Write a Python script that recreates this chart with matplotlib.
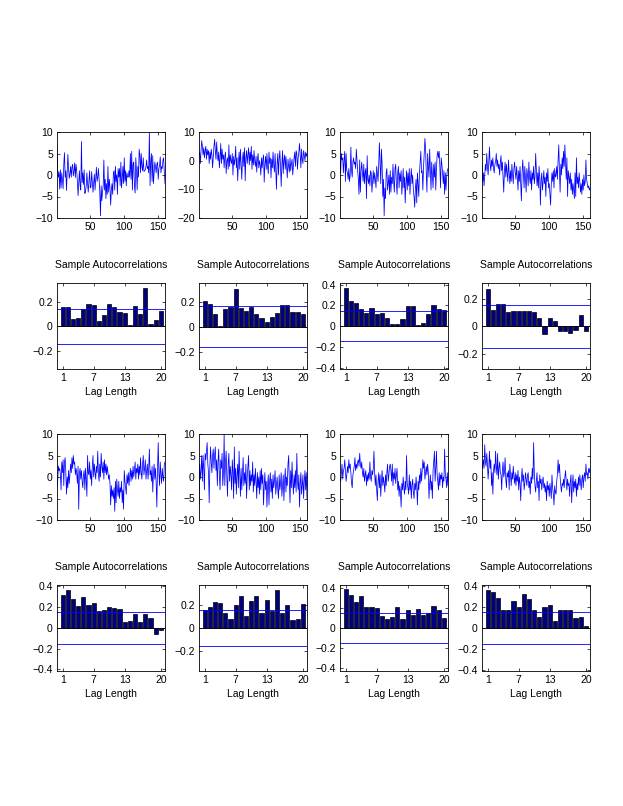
import matplotlib
matplotlib.use('Agg')
import matplotlib.pyplot as plt
import numpy as np

plt.rcParams['font.family'] = ['Liberation Sans', 'DejaVu Sans']
plt.rcParams['font.size'] = 7.5

# simulated series, 160 points each
s1 = [6.5, 1.0, -0.5, 0.8, -3.3, 1.2, -3.0, 0.5, -1.0, -3.2, 2.5, 5.2, -0.5, 1.0, -3.6, 0.5, 4.8, 1.5, -0.8, 0.2,
      2.0, -0.5, 1.8, 2.5, -0.2, 0.8, 2.8, -0.6, 2.5, 1.0, -1.5, -4.8, -2.0, 1.0, -2.5, -3.5, 7.8, -1.8, 0.5, -2.2,
      1.2, -4.3, -3.8, -2.5, 0.5, -2.0, -4.0, -1.5, 1.0, -3.0, -2.8, 0.8, -1.5, -4.0, -2.0, 0.2, -3.5, -1.0, 1.8, -1.5,
      -0.5, 1.5, -1.0, -4.0, -9.5, -2.5, -6.0, -3.8, -2.5, 3.5, -3.5, -1.0, -5.5, -2.0, -4.5, 2.0, -4.0, -1.0, -3.0, -7.0,
      -3.5, -2.0, -4.5, 0.5, 1.0, -3.5, 2.0, -1.5, 0.0, -4.5, 1.5, -0.5, 1.5, -2.5, 3.0, -3.0, -1.0, 2.0, -2.0, 4.0,
      -1.5, 1.0, -2.5, 0.5, -0.5, -0.5, 1.0, -0.5, 5.0, -1.0, 5.5, -3.5, 2.5, 3.0, -2.5, -4.2, 4.0, 1.0, -3.5, 2.0,
      -0.5, 6.0, 4.5, 0.5, 5.0, 2.0, 1.0, 4.0, 0.8, 1.0, 1.2, 2.0, 3.5, 1.5, 2.0, 0.5, 10.0, -2.5, 3.0, 5.0,
      -1.5, 4.5, -2.0, 0.5, 3.0, 2.0, 0.5, 2.5, 3.0, -1.0, 1.5, 2.2, 4.2, 0.5, 2.0, 1.5, 3.5, 4.0, 0.5, -2.0]
s2 = [2.0, 3.0, -1.0, 3.5, 7.0, 5.0, 2.0, 4.5, 1.0, 3.5, 5.0, 0.5, 4.0, 2.0, 3.5, -1.0, 3.0, 0.5, 4.0, 2.0,
      -2.5, 1.5, 5.0, 7.5, 3.5, 0.5, 6.5, 2.0, 0.0, 3.0, -2.5, 1.0, 6.0, -1.0, 4.0, 0.5, 2.0, -2.5, 1.5, 3.0,
      -4.5, 0.0, 1.0, -3.0, 5.5, -2.0, 2.0, 0.0, -1.0, 2.5, -5.0, 1.5, -1.5, 0.5, 5.0, -2.5, 1.0, -7.0, -1.0, 3.0,
      -3.0, 4.0, -1.0, -6.5, 0.5, 3.0, -2.0, 4.5, -7.0, 1.0, 3.5, -1.0, 2.0, 4.5, -1.5, 3.0, 0.0, 5.0, -3.0, 2.0,
      -1.5, 3.5, 0.0, -2.0, 1.5, -4.0, 0.5, 2.5, -2.5, 0.0, -1.5, -5.0, 1.0, -2.5, 0.5, 2.0, -7.5, -1.0, 1.5, -3.0,
      2.5, -2.0, -4.5, 3.0, -1.0, 1.0, -6.0, 0.5, -2.5, 3.0, -1.5, -4.0, 2.5, -3.0, -10.0, -1.0, 2.5, -5.0, 0.5, 3.5,
      -2.0, -9.0, -1.5, 3.5, -4.5, 0.0, 2.0, -3.0, 1.5, -2.5, -6.0, 0.5, -2.0, -4.0, 1.0, -3.5, -1.0, 0.5, -5.0, -2.0,
      1.0, 3.0, -2.0, 3.5, 2.5, -3.0, 1.0, 3.0, 6.0, 2.0, -2.5, 4.0, 0.5, -1.0, 3.5, 2.0, 0.0, 3.0, 1.5, 2.5]
s3 = [4.5, 0.5, 5.0, 3.5, 4.0, 0.5, 3.5, 5.5, -1.5, 5.0, 1.0, 0.5, -1.0, 1.5, -1.5, 0.0, 6.5, 1.0, -0.5, 3.0,
      4.0, 2.5, 3.0, 1.5, 6.0, 3.5, 1.0, -1.0, -4.5, 3.5, -4.0, 1.0, 3.0, 0.5, -1.5, 2.5, -2.0, 0.5, 1.5, -5.5,
      4.5, -1.0, -2.0, 0.0, -2.5, 1.0, 0.5, -4.0, -1.5, 1.0, -2.0, 0.5, -1.0, -3.0, 2.0, 0.5, -1.5, 2.5, 7.5, 3.0,
      -2.0, 6.0, 2.5, -5.0, -1.0, -9.5, -3.0, -5.5, 0.5, 1.5, -3.5, -2.0, 0.0, -4.5, 1.0, -4.0, -0.5, -2.0, 2.5, -1.5,
      -4.0, 1.5, 2.5, -2.0, -4.5, 0.5, 2.0, -3.0, 0.5, -1.5, 1.0, -4.5, -2.0, 1.5, -3.0, -0.5, -6.5, -2.0, 1.0, -3.5,
      0.5, -2.5, 1.5, -4.5, -1.0, 1.5, -2.0, 0.0, -3.5, -5.0, -7.5, -3.0, -1.0, -6.5, 0.5, -2.0, -5.0, 0.5, 3.0, 5.5,
      0.5, 1.0, -3.5, 2.0, 5.0, 8.5, 6.0, 0.5, -4.0, 5.0, 2.0, -0.5, 6.0, 1.5, -3.5, 3.0, 0.0, -3.0, 2.5, -0.5,
      3.0, -3.5, 1.5, 4.5, 5.5, 4.0, 5.5, 2.0, -3.0, 4.0, 2.5, 0.5, -2.0, 1.0, -4.5, 0.5, -3.5, -0.5, 1.0, 1.5]
s4 = [2.5, -1.5, 0.5, -2.5, 0.0, 2.5, 1.0, 5.0, 2.0, 0.0, 3.0, 6.5, 2.5, 1.0, 3.5, 2.0, 4.0, 1.5, 0.5, 2.5,
      3.0, 5.0, 2.0, 3.5, 1.5, 2.5, 0.0, 3.0, 4.5, 1.0, 3.0, -0.5, -4.0, 1.0, 3.0, -0.5, 2.5, 0.5, -1.5, 3.5,
      0.5, -2.0, 1.0, -1.5, 2.5, 0.0, -2.0, 1.5, 3.0, 0.5, -1.0, 2.0, -0.5, -3.5, 1.0, -1.5, 2.0, -2.0, -6.0, 0.5,
      3.5, 0.0, -3.0, 2.0, -1.0, -4.0, 1.5, 0.0, -2.5, 3.0, -0.5, -2.0, 1.0, -3.5, 0.5, -1.0, 2.0, -2.0, -0.5, 5.0,
      1.0, -2.5, 0.5, -3.0, 2.0, -0.5, -7.0, -1.0, 0.5, -3.5, -1.5, 1.0, -2.0, -0.5, -5.0, 0.5, -1.5, 1.5, -3.0, -2.0,
      -4.5, -7.0, -2.0, 0.5, -1.5, 1.0, -3.0, 1.5, -0.5, 0.0, 2.0, -1.0, 3.5, 7.0, 1.0, -4.0, 2.5, 0.0, 4.0, 1.5,
      5.5, 2.0, 7.0, 3.0, -1.0, 4.0, -5.0, 1.0, -0.5, -2.0, 0.5, -3.5, -1.0, -4.5, -2.0, -3.5, -5.5, 0.5, -5.0, 4.0,
      -2.0, -0.5, -3.0, 0.5, -1.5, -4.0, -2.0, -4.5, -1.0, -3.5, 0.0, -2.5, -1.5, 3.5, -1.0, -2.0, -3.0, -2.5, -3.5, -3.0]
s5 = [-2.0, -1.0, 2.5, 1.5, 2.0, 0.5, -3.0, 3.5, 1.0, 4.0, -2.0, 3.5, 4.5, 1.0, -4.0, 0.0, -2.5, 1.5, -1.5, 0.5,
      3.0, 1.0, 4.5, 2.0, 5.0, 3.0, 3.5, 0.5, 2.0, 1.0, -1.5, 2.5, -7.5, 1.0, 2.0, -0.5, 1.5, -1.0, -2.5, 0.5,
      1.5, -3.0, 2.0, -0.5, -4.5, 5.0, 1.0, 0.5, 3.5, -0.5, 1.5, -2.0, 2.5, 5.0, 0.0, 3.0, 1.0, -0.5, 2.5, 1.0,
      6.0, 0.5, -1.0, 3.0, 0.0, 5.5, 2.5, 1.0, 3.5, -0.5, 4.0, 1.0, 3.0, 0.5, 2.5, 1.0, -0.5, 0.5, -1.5, -6.5,
      -2.0, -4.5, -3.0, -5.0, -2.5, -8.0, -1.0, -6.0, -0.5, -3.0, -4.5, -1.0, -5.0, -2.5, -3.5, -1.0, -6.0, -3.0, -7.5, 1.5,
      -1.0, -2.5, -4.0, 0.5, -1.5, 1.0, -2.0, 0.0, 2.0, -1.0, 1.5, -0.5, 2.5, 0.0, 1.5, 3.5, -0.5, 2.0, 1.0, 3.0,
      -0.5, 2.5, 0.5, 4.5, 1.0, -0.5, 3.0, 5.0, 0.5, 2.0, 4.0, -0.5, 1.5, 3.0, -0.5, 2.0, 6.5, 0.5, 1.5, -1.0,
      2.5, -3.5, 1.0, 3.0, -0.5, 2.0, -1.5, -7.0, 2.0, 8.0, 1.0, -2.0, 3.5, 0.5, -1.5, 2.0, 0.0, -1.0, 3.0, 3.5]
s6 = [-6.5, 3.0, -0.5, 1.5, 5.0, -1.0, 5.0, 2.0, -3.0, 5.5, 4.0, 6.0, 8.0, 3.0, 1.0, -6.0, 2.5, 7.0, 3.5, 1.0,
      5.0, 6.5, 2.0, 5.0, 7.0, 1.5, 4.0, -2.0, 3.5, 6.5, 0.5, -3.0, 4.0, 2.0, 5.5, -2.0, 1.0, 10.0, -2.0, 3.5,
      6.0, 0.0, -4.5, 3.0, 5.5, -1.0, 2.5, 0.5, -3.0, 4.0, 1.0, -5.0, 7.0, -1.5, 2.0, -4.0, 0.5, 3.0, -2.5, 6.0,
      1.0, -4.5, 2.0, -3.0, 0.5, 4.5, -2.0, 1.0, -1.5, 3.0, -5.0, 0.0, 2.5, 5.0, -3.0, 1.5, -2.0, 0.5, -1.0, 3.5,
      -3.5, 0.5, -2.0, 2.0, -1.0, -5.0, 1.0, -2.5, 0.0, -4.0, 1.5, -3.0, 2.0, -1.5, 0.5, -6.5, -2.0, 1.0, -3.0, -1.0,
      -7.0, -2.0, 0.5, -6.5, -1.0, 1.0, -3.5, -0.5, -5.0, 0.5, -2.5, -1.0, 1.5, -4.0, -2.0, 0.0, -3.0, -5.0, 0.5, -3.0,
      -1.5, 1.0, -4.5, -2.0, 0.5, -5.5, -1.0, 2.0, -3.5, 0.0, -2.0, 3.0, 5.0, -1.0, -6.0, 1.5, -2.5, 3.5, -1.0, -4.0,
      0.5, -2.5, 1.5, -3.5, 5.5, -1.0, -3.0, 0.5, -7.0, -1.5, 1.0, -4.0, -2.0, 0.5, -5.0, -1.0, 1.5, -3.0, 1.0, -5.0]
s7 = [-0.5, -1.0, 1.0, 3.0, -0.5, 1.5, 2.0, 4.0, 1.5, -1.0, 0.5, 2.5, 1.0, 4.0, 2.0, 3.0, 1.0, -1.5, -2.5, 0.5,
      1.5, 2.5, 4.5, 1.5, 3.0, 2.0, 3.5, 4.0, 2.5, 5.5, 3.0, 2.0, 3.5, 1.0, 0.0, 2.0, -1.0, 0.5, 1.5, -2.0,
      0.5, -1.0, 1.0, -0.5, 3.5, 0.0, -1.0, 1.5, 0.5, 2.0, 6.0, 1.0, -2.0, 0.5, -3.0, -5.5, -1.0, 1.0, -2.5, 0.5,
      -4.5, -1.0, 1.5, -2.0, 0.0, -1.5, -3.5, 0.5, -2.0, 1.0, 3.0, -1.0, 0.5, 2.5, 3.0, 1.5, -1.0, 3.0, -2.0, 1.0,
      -0.5, 2.0, -1.5, 0.5, 2.0, -3.0, -1.0, -4.5, -2.0, -3.5, -7.0, -1.5, -3.0, 0.0, -2.5, -4.0, -1.0, -3.0, 5.0, -1.5,
      -2.5, -4.0, 0.5, -3.0, -1.0, -5.0, -2.0, -0.5, -3.5, -5.0, -1.5, -3.0, 0.0, -2.5, -6.5, -1.0, -3.0, 0.5, -1.5, 2.0,
      -1.0, 1.5, 4.0, 2.0, 3.5, -0.5, 1.0, 2.5, 0.5, 3.0, 1.0, -5.0, -1.5, 0.5, -3.0, -1.0, -5.0, 1.5, 3.5, 6.0,
      -1.0, 2.0, 6.0, 0.5, -1.0, -3.0, 1.0, -2.0, 0.5, -0.5, 1.0, -2.5, 0.0, -1.0, 6.5, 1.0, -0.5, -2.5, 1.0, -2.0]
s8 = [2.0, 2.5, 4.0, 2.0, 7.5, 3.5, 2.5, 5.5, 3.0, -0.5, 2.0, 6.0, 2.0, 4.0, -2.0, 1.0, -4.0, 1.5, 3.0, 1.0,
      6.0, 2.5, 0.5, 5.5, -0.5, 2.0, 3.5, 1.0, 0.5, -3.0, 1.5, 3.5, 0.0, 1.0, 4.5, -0.5, -2.5, 1.0, 0.0, 1.5,
      -3.0, 3.0, 0.5, -2.0, 1.0, -0.5, 2.5, 0.0, -1.5, 1.0, -2.0, 0.5, -1.0, 1.5, -3.0, 0.0, -1.5, -5.5, -0.5, 2.0,
      -1.0, 0.5, -3.0, -1.5, 1.0, -0.5, -2.0, 0.5, 1.0, -2.5, -1.0, -4.0, 0.0, -1.5, 2.0, -0.5, 8.0, 1.0, -2.0, -3.5,
      -1.0, 1.0, -2.5, -1.0, -5.5, 0.5, -1.5, -0.5, -3.0, -1.0, 0.0, -2.5, -1.5, -3.5, -2.0, -5.5, -1.0, -3.0, -2.0, -4.5,
      -1.5, -3.0, -5.0, 0.5, -2.5, -4.0, -6.5, -2.0, -3.5, -4.0, -1.0, 0.5, 4.0, 1.0, 3.0, 0.0, -2.0, -3.5, -1.5, -2.0,
      -0.5, -2.5, 0.0, 1.5, -1.0, -3.0, -0.5, -2.0, -1.5, -4.5, -1.0, 0.5, -6.0, -2.0, 0.5, -3.5, -1.0, -2.5, -0.5, -4.5,
      -1.5, -3.0, 0.0, -2.0, 0.5, -1.0, -3.0, -0.5, 0.5, -2.5, 0.0, 1.0, -1.0, 3.0, 0.5, 1.0, -0.5, 2.0, 1.0, 2.0]

# sample autocorrelations, lags 1..20
lags = list(range(1, 21))
acf1 = [0.155, 0.155, 0.06, 0.068, 0.142, 0.183, 0.175, 0.044, 0.09, 0.183,
        0.158, 0.117, 0.109, 0.008, 0.163, 0.10, 0.313, 0.019, 0.052, 0.125]
acf2 = [0.203, 0.179, 0.099, 0.008, 0.139, 0.155, 0.299, 0.147, 0.123, 0.155,
        0.099, 0.067, 0.035, 0.075, 0.107, 0.171, 0.171, 0.115, 0.115, 0.099]
acf3 = [0.368, 0.244, 0.225, 0.165, 0.13, 0.175, 0.12, 0.13, 0.079, 0.022,
        0.022, 0.07, 0.194, 0.194, 0.01, 0.032, 0.12, 0.203, 0.165, 0.155]
acf4 = [0.27, 0.118, 0.161, 0.161, 0.104, 0.111, 0.111, 0.111, 0.111, 0.104,
        0.06, -0.058, 0.06, 0.039, -0.036, -0.036, -0.05, -0.029, 0.082, -0.036]
acf5 = [0.315, 0.364, 0.276, 0.208, 0.296, 0.218, 0.237, 0.159, 0.169, 0.198,
        0.189, 0.179, 0.052, 0.062, 0.13, 0.052, 0.13, 0.10, -0.059, -0.02]
acf6 = [0.159, 0.177, 0.22, 0.212, 0.133, 0.081, 0.194, 0.272, 0.107, 0.229,
        0.272, 0.125, 0.238, 0.142, 0.325, 0.125, 0.194, 0.072, 0.081, 0.203]
acf7 = [0.383, 0.323, 0.253, 0.313, 0.203, 0.203, 0.193, 0.123, 0.093, 0.113,
        0.203, 0.093, 0.173, 0.133, 0.183, 0.133, 0.153, 0.213, 0.173, 0.103]
acf8 = [0.359, 0.34, 0.282, 0.176, 0.176, 0.253, 0.205, 0.32, 0.272, 0.167,
        0.109, 0.196, 0.224, 0.07, 0.176, 0.176, 0.167, 0.099, 0.109, 0.022]

bounds = [0.145, 0.165, 0.145, 0.155, 0.155, 0.157, 0.15, 0.152]
acf_ylims = [(-0.35, 0.355), (-0.34, 0.35), (-0.41, 0.415), (-0.31, 0.315),
             (-0.415, 0.413), (-0.37, 0.37), (-0.425, 0.425), (-0.41, 0.41)]
ts_ylims = [(-10, 10), (-20, 10), (-10, 10), (-10, 10), (-10, 10), (-10, 10), (-10, 10), (-10, 10)]
ts_yticks = [[-10, -5, 0, 5, 10], [-20, -10, 0, 10]] + [[-10, -5, 0, 5, 10]] * 6

series = [s1, s2, s3, s4, s5, s6, s7, s8]
acfs = [acf1, acf2, acf3, acf4, acf5, acf6, acf7, acf8]

W, H = 623, 806
fig = plt.figure(figsize=(W / 100, H / 100), dpi=100)

col_left = [57, 199, 340, 482]
ts_top = [132, 434]
acf_top = [283, 585]
aw, ah = 108, 86


def box(left, top):
    return fig.add_axes([left / W, 1 - (top + ah) / H, aw / W, ah / H])


def style(ax):
    ax.tick_params(direction='in', length=2.5, width=0.5, top=True, right=True, pad=3)
    for sp in ax.spines.values():
        sp.set_linewidth(0.6)


for i in range(8):
    r, c = divmod(i, 4)
    y = series[i]
    ax = box(col_left[c], ts_top[r])
    ax.plot(np.arange(1, len(y) + 1), y, color='blue', lw=0.55)
    ax.set_xlim(1, 160)
    ax.set_ylim(ts_ylims[i])
    ax.set_xticks([50, 100, 150])
    ax.set_yticks(ts_yticks[i])
    ax.set_yticklabels([str(v).replace('-', '\u2212') for v in ts_yticks[i]])
    style(ax)

    ax2 = box(col_left[c], acf_top[r])
    ax2.bar(lags, acfs[i], width=0.8, color='#000080', edgecolor='black', linewidth=0.5)
    ax2.axhline(0, color='black', lw=0.6)
    ax2.axhline(bounds[i], color='blue', lw=0.6)
    ax2.axhline(-bounds[i], color='blue', lw=0.6)
    ax2.set_xlim(-0.1, 20.8)
    ax2.set_ylim(acf_ylims[i])
    ax2.set_xticks([1, 7, 13, 20])
    lo, hi = acf_ylims[i]
    yt = [v for v in [-0.4, -0.2, 0, 0.2, 0.4] if lo <= v <= hi]
    ax2.set_yticks(yt)
    ax2.set_yticklabels(['0' if v == 0 else ('%g' % v).replace('-', '\u2212') for v in yt])
    ax2.set_title('Sample Autocorrelations', pad=11, fontsize=7.5)
    ax2.set_xlabel('Lag Length', labelpad=2.5)
    style(ax2)

fig.savefig('out.png', dpi=100)
